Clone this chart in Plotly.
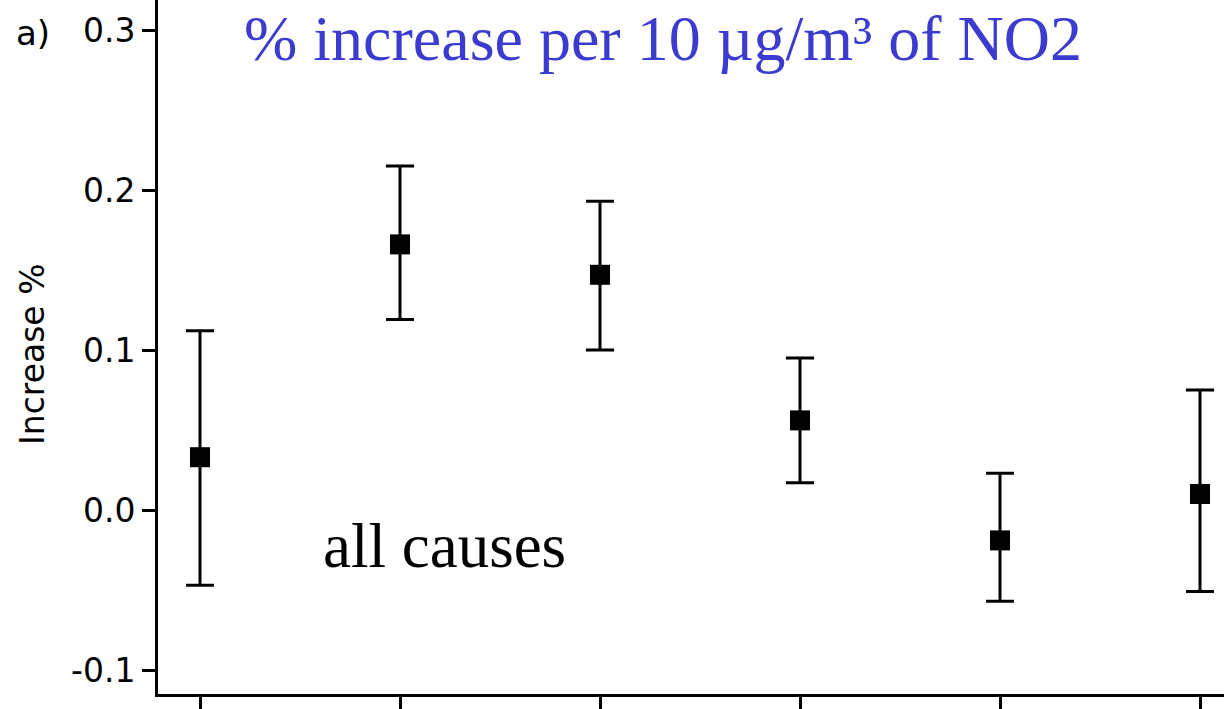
import plotly.graph_objects as go

# Point estimates and 95% interval bounds (% increase per 10 µg/m³ NO2)
groups = [1, 2, 3, 4, 5, 6]
estimate = [0.033, 0.166, 0.147, 0.056, -0.019, 0.010]
upper = [0.112, 0.215, 0.193, 0.095, 0.023, 0.075]
lower = [-0.047, 0.119, 0.100, 0.017, -0.057, -0.051]

y_ticks = [-0.1, 0.0, 0.1, 0.2, 0.3]
y_tick_text = ["-0.1", "0.0", "0.1", "0.2", "0.3"]

err_plus = [u - e for u, e in zip(upper, estimate)]
err_minus = [e - l for e, l in zip(estimate, lower)]

fig = go.Figure(
    go.Scatter(
        x=groups,
        y=estimate,
        mode="markers",
        marker=dict(symbol="square", size=20, color="black"),
        error_y=dict(
            type="data",
            symmetric=False,
            array=err_plus,
            arrayminus=err_minus,
            color="black",
            thickness=3,
            width=14,
        ),
        showlegend=False,
    )
)

sans = "DejaVu Sans, Liberation Sans, Arial, sans-serif"
serif = "Liberation Serif, Times New Roman, serif"

fig.update_layout(
    width=1224,
    height=709,
    margin=dict(l=158, r=0, t=0, b=15),
    paper_bgcolor="white",
    plot_bgcolor="white",
    xaxis=dict(
        range=[0.79, 6.12],
        tickvals=groups,
        showticklabels=False,
        ticks="outside",
        ticklen=16,
        tickwidth=2.5,
        tickcolor="black",
        showline=True,
        linewidth=3,
        linecolor="black",
        showgrid=False,
        zeroline=False,
    ),
    yaxis=dict(
        range=[-0.115, 0.31875],
        tickvals=y_ticks,
        ticktext=y_tick_text,
        ticks="outside",
        ticklen=13,
        tickwidth=3,
        tickcolor="black",
        ticklabelstandoff=0,
        tickfont=dict(family=sans, size=33, color="black"),
        showline=True,
        linewidth=3,
        linecolor="black",
        showgrid=False,
        zeroline=False,
    ),
    annotations=[
        dict(
            text="a)", xref="paper", yref="paper",
            x=(14 - 158) / 1066, y=1 - 33 / 694,
            xanchor="left", yanchor="middle", showarrow=False,
            font=dict(family=sans, size=34, color="black"),
        ),
        dict(
            text="Increase %", xref="paper", yref="paper",
            x=(33 - 158) / 1066, y=1 - 354 / 694, textangle=-90,
            xanchor="center", yanchor="middle", showarrow=False,
            font=dict(family=sans, size=33, color="black"),
        ),
        dict(
            text="% increase per 10 µg/m³ of NO2", xref="paper", yref="paper",
            x=(663 - 158) / 1066, y=1 - 39 / 694,
            xanchor="center", yanchor="middle", showarrow=False,
            font=dict(family=serif, size=64, color="#3b3bcf"),
        ),
        dict(
            text="all causes", xref="paper", yref="paper",
            x=(444 - 158) / 1066, y=1 - 546 / 694,
            xanchor="center", yanchor="middle", showarrow=False,
            font=dict(family=serif, size=63, color="black"),
        ),
    ],
)

fig.write_html("out.html")
